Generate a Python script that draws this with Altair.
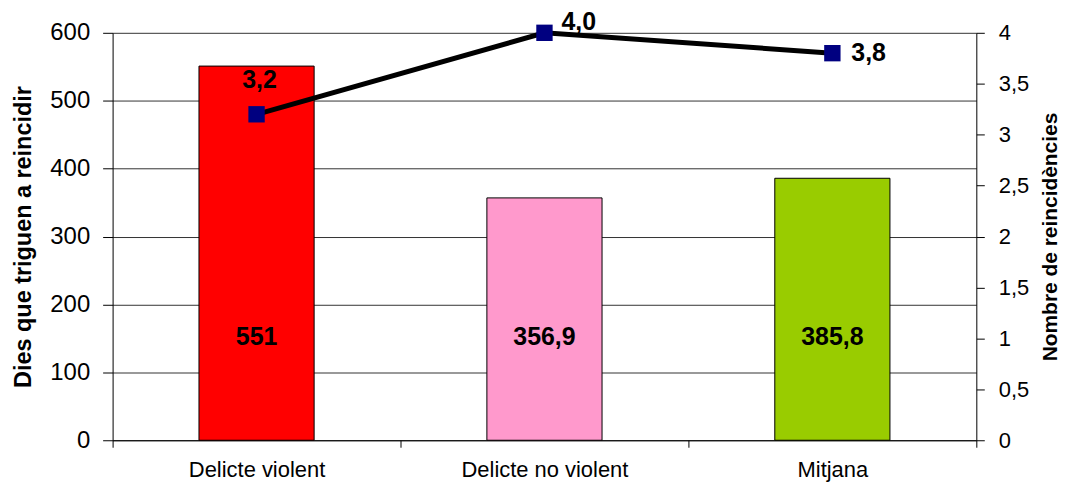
import altair as alt
import pandas as pd

categories = ["Delicte violent", "Delicte no violent", "Mitjana"]
dies = [551, 356.9, 385.8]
reincidencies = [3.2, 4.0, 3.8]
bar_colors = ["#FF0000", "#FF99CC", "#99CC00"]
left_ticks = [0, 100, 200, 300, 400, 500, 600]
right_ticks = [0, 0.5, 1, 1.5, 2, 2.5, 3, 3.5, 4]

df = pd.DataFrame({"cat": categories, "dies": dies, "rein": reincidencies})

FONT = "Liberation Sans"

x = alt.X(
    "cat:N",
    sort=categories,
    scale=alt.Scale(paddingInner=0, paddingOuter=0),
    axis=alt.Axis(
        title=None, labelAngle=0, tickBand="extent", ticks=True, tickSize=7,
        labelPadding=12, domainColor="black", tickColor="black",
        labelFontSize=22, labelColor="black", labelFont=FONT, grid=False,
    ),
)

y_left = alt.Y(
    "dies:Q",
    scale=alt.Scale(domain=[0, 600], nice=False),
    axis=alt.Axis(
        values=left_ticks, title="Dies que triguen a reincidir",
        titleFontSize=23.5, titleFont=FONT, titleFontWeight="bold", titleColor="black",
        titlePadding=14, labelFontSize=24, labelFont=FONT, labelColor="black",
        tickSize=10, labelPadding=13, tickColor="black", domainColor="black",
        grid=True, gridColor="#333333", gridWidth=1,
    ),
)

y_right = alt.Y(
    "rein:Q",
    scale=alt.Scale(domain=[0, 4], nice=False),
    axis=alt.Axis(
        orient="right", values=right_ticks, title="Nombre de reincidències",
        titleAngle=270, titleFontSize=21, titleFont=FONT,
        titleFontWeight="bold", titleColor="black", titlePadding=32,
        labelFontSize=22, labelFont=FONT, labelColor="black", tickSize=8,
        labelPadding=14, tickColor="black", domainColor="black", grid=False,
        labelExpr="replace(toString(datum.value), '.', ',')",
    ),
)

base = alt.Chart(df).transform_calculate(
    dies_lbl="replace(toString(datum.dies), '.', ',')",
    rein_lbl="replace(format(datum.rein, '.1f'), '.', ',')",
)

bars = base.mark_bar(width=alt.RelativeBandSize(0.4), stroke="black", strokeWidth=1).encode(
    x=x,
    y=y_left,
    color=alt.Color("cat:N", scale=alt.Scale(domain=categories, range=bar_colors), legend=None),
)

bar_text = base.mark_text(
    font=FONT, fontSize=25, fontWeight="bold", color="black", baseline="alphabetic"
).encode(
    x=x,
    y=alt.datum(141),
    text="dies_lbl:N",
)

left = alt.layer(bars, bar_text)

line = base.mark_line(color="black", strokeWidth=5).encode(x=x, y=y_right)
pts = base.mark_point(shape="square", filled=True, size=270, color="#000080", opacity=1).encode(
    x=x, y=y_right
)
lbl1 = base.transform_filter(alt.datum.cat == categories[0]).mark_text(
    font=FONT, fontSize=25, fontWeight="bold", color="black", align="center",
    baseline="alphabetic", dx=3, dy=-26,
).encode(x=x, y=y_right, text="rein_lbl:N")
lbl2 = base.transform_filter(alt.datum.cat == categories[1]).mark_text(
    font=FONT, fontSize=25, fontWeight="bold", color="black", align="left",
    baseline="alphabetic", dx=17, dy=-3,
).encode(x=x, y=y_right, text="rein_lbl:N")
lbl3 = base.transform_filter(alt.datum.cat == categories[2]).mark_text(
    font=FONT, fontSize=25, fontWeight="bold", color="black", align="left",
    baseline="alphabetic", dx=19, dy=8,
).encode(x=x, y=y_right, text="rein_lbl:N")

right = alt.layer(line, pts, lbl1, lbl2, lbl3)

chart = (
    alt.layer(left, right)
    .resolve_scale(y="independent")
    .properties(
        width=867, height=409,
        autosize=alt.AutoSizeParams(type="none"),
        padding={"left": 105, "top": 24, "right": 84, "bottom": 41},
        background="white",
    )
    .configure_view(strokeWidth=0)
)

chart.save("out.html", embed_options={"renderer": "svg", "actions": False})
